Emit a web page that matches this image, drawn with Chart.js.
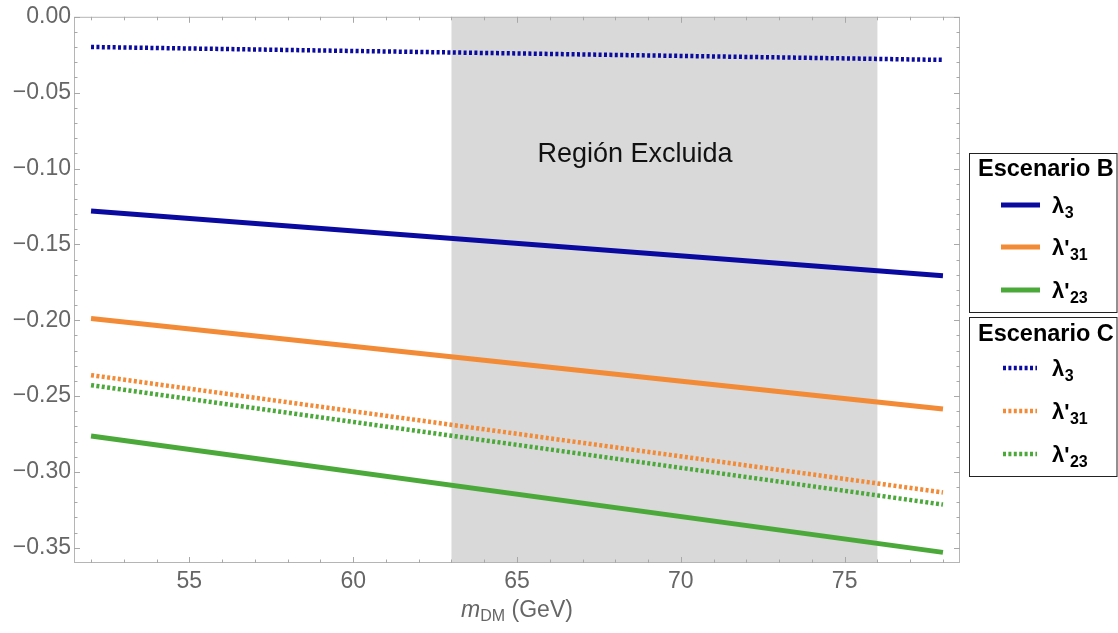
<!DOCTYPE html>
<html>
<head>
<meta charset="utf-8">
<script src="https://cdn.jsdelivr.net/npm/chart.js@4.4.1/dist/chart.umd.min.js"></script>
<style>
  html, body { margin:0; padding:0; background:#fff; }
  #wrap { width:1118px; height:633px; position:relative; }
</style>
</head>
<body>
<div id="wrap"><canvas id="chart"></canvas></div>
<script>
/* ---------- data ---------- */
const mDM = [52, 78];
// Escenario B (solid)
const bLambda3  = [-0.1280, -0.1706];
const bLambda31 = [-0.1988, -0.2585];
const bLambda23 = [-0.2763, -0.3530];
// Escenario C (dotted)
const cLambda3  = [-0.0199, -0.0284];
const cLambda31 = [-0.2362, -0.3135];
const cLambda23 = [-0.2428, -0.3215];

const xTicks = [55, 60, 65, 70, 75];
const yTicks = [0, -0.05, -0.10, -0.15, -0.20, -0.25, -0.30, -0.35];
const excluded = [63, 76];
const excludedLabel = 'Región Excluida';
const groupTitles = ['Escenario B', 'Escenario C'];
const nameBase = ['λ', "λ'", "λ'"];
const nameSub  = ['3', '31', '23'];

const BLUE = '#0a0aa0', ORANGE = '#f28a36', GREEN = '#4ba93a';
const FONT = '"Liberation Sans", Arial, sans-serif';

const pts = ys => mDM.map((x, i) => ({ x, y: ys[i] }));
function ds(label, ys, color, group, idx) {
  return {
    label, data: pts(ys), borderColor: color, backgroundColor: color,
    borderWidth: group === 0 ? 5 : 4.5,
    borderDash: group === 0 ? [] : [3, 2.4],
    pointRadius: 0, fill: false, tension: 0,
    group, idx
  };
}

const datasets = [
  ds('B λ3',  bLambda3,  BLUE,   0, 0),
  ds('B λ31', bLambda31, ORANGE, 0, 1),
  ds('B λ23', bLambda23, GREEN,  0, 2),
  ds('C λ3',  cLambda3,  BLUE,   1, 0),
  ds('C λ31', cLambda31, ORANGE, 1, 1),
  ds('C λ23', cLambda23, GREEN,  1, 2)
];

function subText(ctx, x, y, base, sub, size, color) {
  ctx.fillStyle = color;
  ctx.textAlign = 'left';
  ctx.textBaseline = 'middle';
  ctx.font = `bold ${size}px ${FONT}`;
  ctx.fillText(base, x, y);
  const w = ctx.measureText(base).width;
  ctx.font = `bold ${Math.round(size * 0.72)}px ${FONT}`;
  ctx.fillText(sub, x + w + 0.5, y + size * 0.3);
}

// shaded band, frame with inside ticks, labels, legend boxes
const decor = {
  id: 'decor',
  beforeDatasetsDraw(chart) {
    const { ctx, chartArea: a, scales: { x } } = chart;
    const x0 = x.getPixelForValue(excluded[0]), x1 = x.getPixelForValue(excluded[1]);
    ctx.save();
    ctx.fillStyle = '#d9d9d9';
    ctx.fillRect(x0, a.top, x1 - x0, a.bottom - a.top);
    ctx.restore();
  },
  afterDatasetsDraw(chart) {
    const { ctx, chartArea: a, scales: { x, y } } = chart;
    ctx.save();
    // frame
    ctx.strokeStyle = '#b5b5b5';
    ctx.lineWidth = 1;
    ctx.strokeRect(a.left + 0.5, a.top + 0.5, a.right - a.left - 1, a.bottom - a.top - 1);
    // ticks inside the frame on all four sides
    ctx.strokeStyle = '#a8a8a8';
    ctx.beginPath();
    for (let v = 52; v <= 78; v++) {
      const px = Math.round(x.getPixelForValue(v)) + 0.5;
      const len = v % 5 === 0 ? 6 : 3.5;
      ctx.moveTo(px, a.bottom); ctx.lineTo(px, a.bottom - len);
      ctx.moveTo(px, a.top); ctx.lineTo(px, a.top + len);
    }
    for (let k = 0; k <= 35; k++) {
      const v = -k / 100;
      const py = Math.round(y.getPixelForValue(v)) + 0.5;
      const len = k % 5 === 0 ? 6 : 3.5;
      ctx.moveTo(a.left, py); ctx.lineTo(a.left + len, py);
      ctx.moveTo(a.right, py); ctx.lineTo(a.right - len, py);
    }
    ctx.stroke();

    // region label
    ctx.fillStyle = '#111';
    ctx.font = `27px ${FONT}`;
    ctx.textAlign = 'center';
    ctx.textBaseline = 'middle';
    ctx.fillText(excludedLabel, x.getPixelForValue(68.6), y.getPixelForValue(-0.0905));

    // x axis title: m_DM (GeV)
    ctx.fillStyle = '#666';
    ctx.textBaseline = 'alphabetic';
    ctx.textAlign = 'left';
    ctx.font = `italic 23px ${FONT}`;
    const wm = ctx.measureText('m').width;
    ctx.font = `16px ${FONT}`;
    const wdm = ctx.measureText('DM').width;
    ctx.font = `23px ${FONT}`;
    const wg = ctx.measureText(' (GeV)').width;
    let tx = (a.left + a.right) / 2 - (wm + wdm + wg) / 2;
    const ty = 617;
    ctx.font = `italic 23px ${FONT}`;
    ctx.fillText('m', tx, ty); tx += wm;
    ctx.font = `16px ${FONT}`;
    ctx.fillText('DM', tx, ty + 4); tx += wdm;
    ctx.font = `23px ${FONT}`;
    ctx.fillText(' (GeV)', tx, ty);

    // legend boxes
    const boxes = [
      { top: 153, bottom: 312, titleY: 170, rows: [205, 247, 290], sx0: 1001, sx1: 1040 },
      { top: 317, bottom: 476, titleY: 335, rows: [368, 411, 454], sx0: 1003, sx1: 1037 }
    ];
    boxes.forEach((b, g) => {
      ctx.strokeStyle = '#222';
      ctx.lineWidth = 1;
      ctx.strokeRect(969.5, b.top + 0.5, 1117 - 969.5, b.bottom - b.top);
      ctx.fillStyle = '#000';
      ctx.font = `bold 23.5px ${FONT}`;
      ctx.textAlign = 'left';
      ctx.textBaseline = 'middle';
      ctx.fillText(groupTitles[g], 978, b.titleY);
      chart.data.datasets.filter(d => d.group === g).forEach(d => {
        const ry = b.rows[d.idx];
        ctx.strokeStyle = d.borderColor;
        ctx.lineWidth = d.borderWidth;
        ctx.setLineDash(d.borderDash);
        ctx.beginPath();
        ctx.moveTo(b.sx0, ry); ctx.lineTo(b.sx1, ry);
        ctx.stroke();
        ctx.setLineDash([]);
        subText(ctx, 1052, ry + 2, nameBase[d.idx], nameSub[d.idx], 22, '#000');
      });
    });
    ctx.restore();
  }
};

const fmt = v => (v < 0 ? '\u2212' : '') + Math.abs(v).toFixed(2);

new Chart(document.getElementById('chart'), {
  type: 'line',
  data: { datasets },
  options: {
    responsive: true, maintainAspectRatio: false, animation: false,
    layout: { padding: { left: 0, right: 158, top: 15, bottom: 0 } },
    plugins: { legend: { display: false }, tooltip: { enabled: false } },
    scales: {
      x: {
        type: 'linear', min: 51.48, max: 78.52,
        afterBuildTicks: s => { s.ticks = xTicks.map(v => ({ value: v })); },
        afterFit: s => { s.height = 70; },
        grid: { display: false, drawTicks: false }, border: { display: false },
        ticks: { color: '#666', font: { family: FONT, size: 23 }, padding: 5, maxRotation: 0 }
      },
      y: {
        type: 'linear', min: -0.36, max: 0,
        afterBuildTicks: s => { s.ticks = yTicks.map(v => ({ value: v })); },
        afterFit: s => { s.width = 74; },
        grid: { display: false, drawTicks: false }, border: { display: false },
        ticks: { color: '#666', font: { family: FONT, size: 23 }, padding: 3, callback: v => fmt(v) }
      }
    }
  },
  plugins: [decor]
});
</script>
</body>
</html>
